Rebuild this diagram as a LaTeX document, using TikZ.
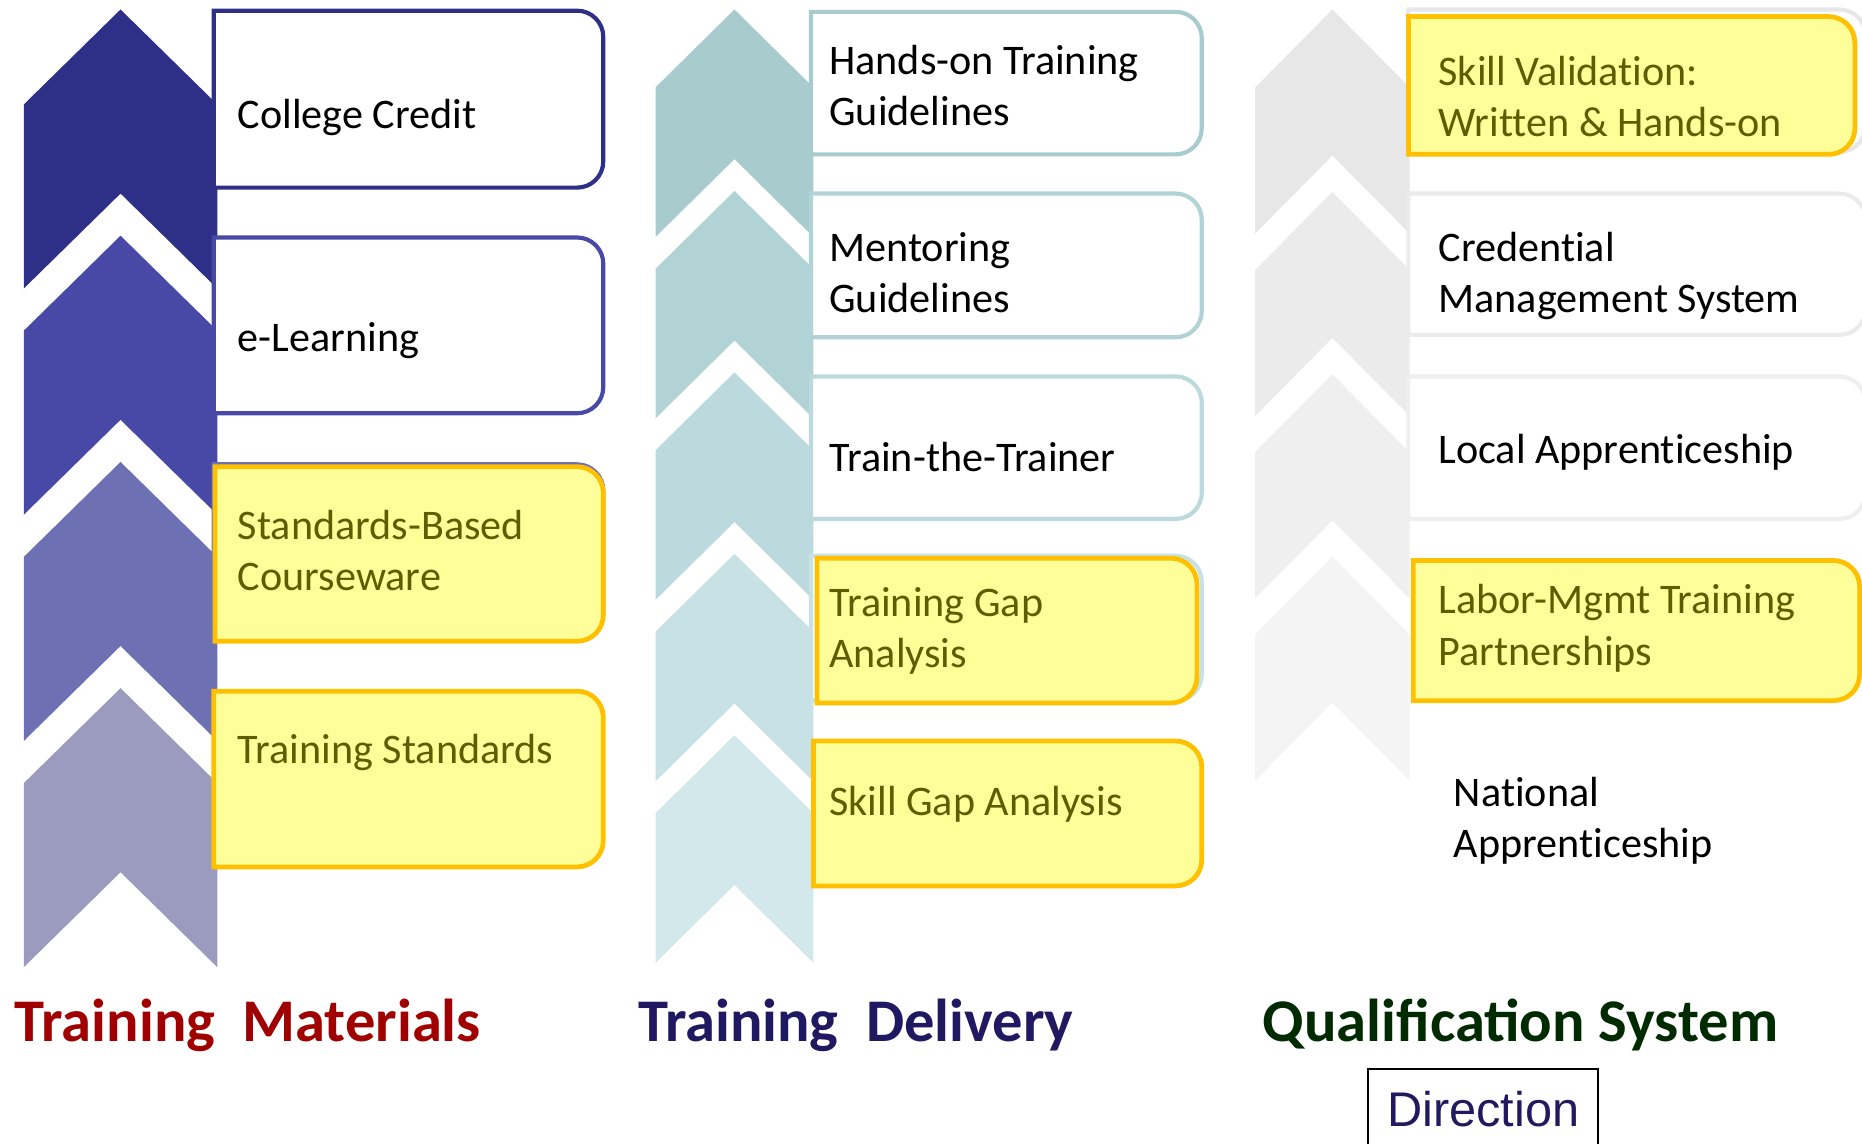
\documentclass[tikz,border=0pt]{standalone}
\usepackage{fontspec}
\setmainfont{Carlito}
\newfontfamily\bodyfamily[Ligatures=NoCommon]{Carlito}
\newfontfamily\dirfont{Liberation Sans}

% column palettes
\definecolor{matA}{HTML}{2E2F87}
\definecolor{matB}{HTML}{4849A6}
\definecolor{matC}{HTML}{6E70B4}
\definecolor{matD}{HTML}{9A9BBF}
\definecolor{delA}{HTML}{A8CBCE}
\definecolor{delB}{HTML}{B2D3D6}
\definecolor{delC}{HTML}{BCDADD}
\definecolor{delD}{HTML}{C7E1E4}
\definecolor{delE}{HTML}{D2E8EA}
\definecolor{qualA}{HTML}{E7E7E7}
\definecolor{qualB}{HTML}{EBEBEB}
\definecolor{qualC}{HTML}{EFEFEF}
\definecolor{qualD}{HTML}{F4F4F4}
\definecolor{hiFill}{HTML}{FFFF99}
\definecolor{hiLine}{HTML}{FFC000}
\definecolor{hiText}{HTML}{5E5E00}
\definecolor{matTitle}{HTML}{A00000}
\definecolor{delTitle}{HTML}{211862}
\definecolor{qualTitle}{HTML}{002B00}
\definecolor{dirText}{HTML}{221A5E}

\newcommand\bodyfont{\bodyfamily\fontsize{17.75}{21.5}\selectfont}
\newcommand\titlefont{\fontsize{25.5}{30}\selectfont\bfseries}
\def\tabrad{22}

% upward chevron: left x, right x, apex y, point height, side length, colour
\newcommand\chevron[6]{%
  \fill[#6] (#1,{#3+#4}) -- ({(#1+#2)/2},#3) -- (#2,{#3+#4})
    -- (#2,{#3+#4+#5}) -- ({(#1+#2)/2},{#3+#5}) -- (#1,{#3+#4+#5}) -- cycle;}

% box with square left corners and rounded right corners: style, x1, y1, x2, y2
\newcommand\tabbox[5]{%
  \draw[#1] (#2,#3) -- ({#4-\tabrad},#3)
    .. controls ({#4-0.448*\tabrad},#3) and (#4,{#3+0.448*\tabrad}) .. (#4,{#3+\tabrad})
    -- (#4,{#5-\tabrad})
    .. controls (#4,{#5-0.448*\tabrad}) and ({#4-0.448*\tabrad},#5) .. ({#4-\tabrad},#5)
    -- (#2,#5) -- cycle;}

\begin{document}
\begin{tikzpicture}[x=0.5pt,y=-0.5pt,
  plainbox/.style={line width=1.75pt, fill=white},
  hibox/.style={line width=2pt, draw=hiLine, fill=hiFill},
  lbl/.style={anchor=base west, inner sep=0pt, align=left, font=\bodyfont, text=black},
  hilbl/.style={lbl, text=hiText},
  title/.style={anchor=base west, inner sep=0pt, font=\titlefont}]
\useasboundingbox (0,0) rectangle (1568,963);
\clip (0,0) rectangle (1568,963);

% ---- Training Materials ----
\chevron{20}{183}{8}{80}{155}{matA}
\chevron{20}{183}{198.5}{80}{155}{matB}
\chevron{20}{183}{389}{80}{155}{matC}
\chevron{20}{183}{579.5}{80}{155}{matD}

\tabbox{plainbox, draw=matA}{180}{9}{508}{158}
\tabbox{plainbox, draw=matB}{180}{200}{508}{348}
\tabbox{plainbox, draw=matC}{180}{391}{508}{539}
\tabbox{hibox}{181}{393}{508}{540}
\tabbox{hibox}{180}{582}{508}{730}

% multi-line labels sit on the baseline of their last line
\node[lbl] (cc) at (200,108) {College Credit};
\node[lbl] (el) at (200,296) {e-Learning};
\node[hilbl] (sbc) at (200,497) {Standards-Based\\Courseware};
\node[hilbl] (ts) at (200,643) {Training Standards};

% ---- Training Delivery ----
\chevron{552}{685}{8}{65.6}{126}{delA}
\chevron{552}{685}{160.8}{65.6}{126}{delB}
\chevron{552}{685}{313.6}{65.6}{126}{delC}
\chevron{552}{685}{466.4}{65.6}{126}{delD}
\chevron{552}{685}{619.2}{65.6}{126}{delE}

\tabbox{plainbox, draw=delA}{683}{10}{1012}{130}
\tabbox{plainbox, draw=delB}{683}{163}{1012}{284}
\tabbox{plainbox, draw=delC}{683}{317}{1012}{437}
\tabbox{plainbox, draw=delD}{683}{468}{1012}{590}
\tabbox{hibox}{688}{470}{1008}{592}
\tabbox{hibox}{685}{624}{1012}{746}

\node[lbl] (hot) at (698,106) {Hands-on Training\\Guidelines};
\node[lbl] (mg) at (698,263) {Mentoring\\Guidelines};
\node[lbl] (ttt) at (698,397) {Train-the-Trainer};
\node[hilbl] (tga) at (698,562) {Training Gap\\Analysis};
\node[hilbl] (sga) at (698,687) {Skill Gap Analysis};

% ---- Qualification System ----
\chevron{1057}{1187}{8}{65.6}{123}{qualA}
\chevron{1057}{1187}{161.6}{65.6}{123}{qualB}
\chevron{1057}{1187}{315.2}{65.6}{123}{qualC}
\chevron{1057}{1187}{468.8}{65.6}{123}{qualD}

\tabbox{plainbox, draw=qualA}{1186}{8}{1571}{128}
\tabbox{hibox}{1186}{14}{1562}{130}
\tabbox{plainbox, draw=qualB}{1186}{163}{1571}{282}
\tabbox{plainbox, draw=qualC}{1186}{317}{1571}{437}
\tabbox{hibox}{1190}{472}{1566}{590}

\node[hilbl] (sv) at (1211,115) {Skill Validation:\\Written \& Hands-on};
\node[lbl] (cms) at (1211,263) {Credential\\Management System};
\node[lbl] (la) at (1211,390) {Local Apprenticeship};
\node[hilbl] (lmt) at (1211,560) {Labor-Mgmt Training\\Partnerships};
\node[lbl] (na) at (1224,722) {National\\Apprenticeship};

% ---- column titles ----
\node[title, text=matTitle] (tm) at (12,877) {Training~~Materials};
\node[title, text=delTitle] (td) at (537,877) {Training~~Delivery};
\node[title, text=qualTitle] (qs) at (1063,877) {Qualification System};

% ---- direction key ----
\draw[line width=0.9pt] (1152,980) -- (1152,900) -- (1346,900) -- (1346,980);
\node[inner sep=0pt, font=\dirfont\fontsize{20.5}{24}\selectfont, text=dirText] (dir) at (1249,934) {Direction};
\end{tikzpicture}
\end{document}
